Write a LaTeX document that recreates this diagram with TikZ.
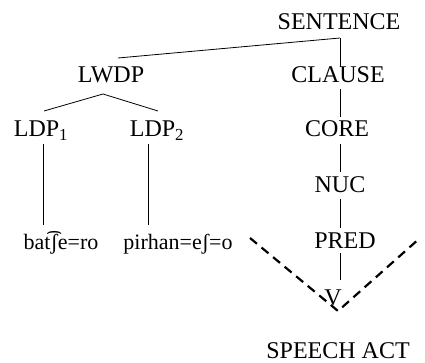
\documentclass[tikz,border=0pt]{standalone}
\usepackage{fontspec}
\setmainfont{Liberation Serif}
\begin{document}
\begin{tikzpicture}[x=1pt,y=-1pt,
  lab/.style={anchor=base,inner sep=0pt,font=\fontsize{24}{28}\selectfont},
  word/.style={anchor=base,inner sep=0pt,font=\fontsize{22}{26}\selectfont},
  edge/.style={line width=0.8pt},
  dashv/.style={line width=2.2pt,dash pattern=on 9pt off 6pt}]
\useasboundingbox (0,0) rectangle (425,363);
\node[lab] (sent) at (339,30) {SENTENCE};
\node[lab] (lwdp) at (111,83) {LWDP};
\node[lab] (clause) at (338,83) {CLAUSE};
\node[lab] (ldpa) at (41,137) {LDP\textsubscript{1}};
\node[lab] (ldpb) at (157,137) {LDP\textsubscript{2}};
\node[lab] (core) at (337,137) {CORE};
\node[lab] (nuc) at (340,193) {NUC};
\node[lab] (pred) at (345,248) {PRED};
\node[lab] (v) at (333,305) {V};
\node[lab] (sa) at (338,358) {SPEECH ACT};
\node[word] (w1) at (61,249) {bat͡ʃe=ro};
\node[word] (w2) at (178,249) {pirhan=eʃ=o};
\coordinate (sj) at (340,38);
\coordinate (lj) at (103,94);
\coordinate (vb) at (338,311);
\coordinate (dl) at (250,238);
\coordinate (dr) at (420,238);
\draw[edge] (sj) -- (118,58) coordinate (lwdptop);
\draw[edge] (sj) -- (sj |- clause.north);
\draw[edge] (lj) -- (44,111) coordinate (a1);
\draw[edge] (lj) -- (158,111) coordinate (a2);
\draw[edge] (340,89) coordinate (c1) -- (340,117) coordinate (c2);
\draw[edge] (43,144) coordinate (l1) -- (43,225) coordinate (l1e);
\draw[edge] (148,144) coordinate (l2) -- (148,225) coordinate (l2e);
\draw[edge] (340,144) coordinate (n1) -- (340,172) coordinate (n2);
\draw[edge] (340,199) coordinate (p1) -- (340,228) coordinate (p2);
\draw[edge] (340,253) coordinate (q1) -- (340,280) coordinate (q2);
\draw[dashv] (dl) -- (vb) -- (dr);
\end{tikzpicture}
\end{document}
